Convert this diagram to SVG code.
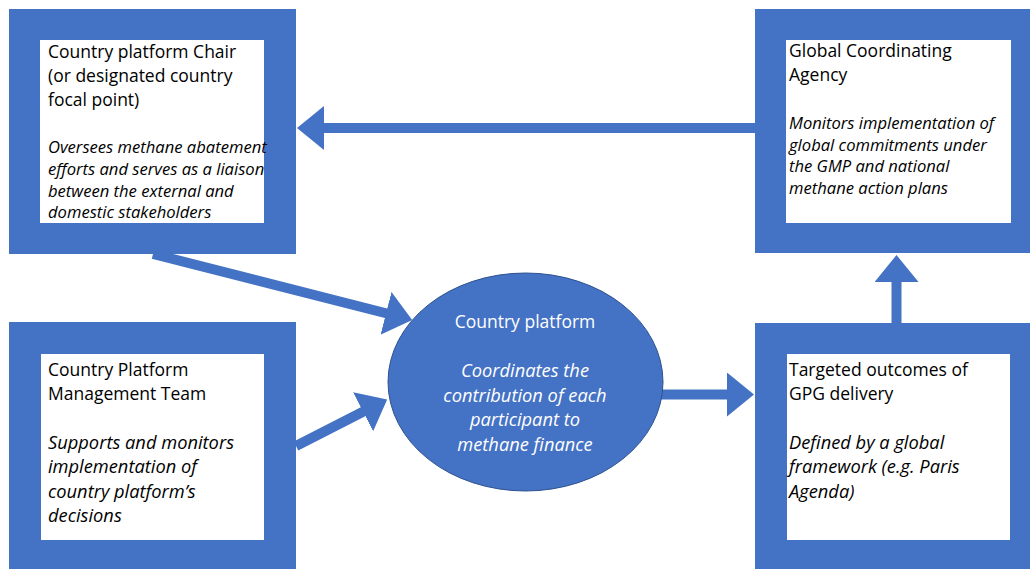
<svg xmlns="http://www.w3.org/2000/svg" width="1030" height="569" viewBox="0 0 1030 569">
<style>
.outer{fill:#4472C4}
.inner{fill:#ffffff}
.t{font-family:"Open Sans","Liberation Sans",sans-serif;font-size:17.5px;fill:#000}
.i{font-family:"Open Sans","Liberation Sans",sans-serif;font-style:italic;fill:#000}
.s{font-size:16.6px}
.l{font-size:18.3px}
.w{fill:#fff}
.c{stroke:#4472C4;stroke-width:10;fill:none;marker-end:url(#ah)}
</style>
<defs>
<marker id="ah" markerUnits="userSpaceOnUse" viewBox="0 0 27 44" markerWidth="27" markerHeight="44" refX="1" refY="22" orient="auto">
<path d="M0,0 L27,22 L0,44 z" fill="#4472C4"/>
</marker>
</defs>
<rect width="1030" height="569" fill="#fff"/>
<g id="connectors">
<line class="c" x1="755" y1="128" x2="323" y2="128"/>
<line class="c" x1="896.5" y1="323" x2="896.5" y2="281"/>
<line class="c" x1="153" y1="254" x2="387" y2="313.5"/>
<line class="c" x1="296" y1="446" x2="364" y2="411.3"/>
<line class="c" x1="660" y1="394.5" x2="728" y2="394.5"/>
</g>
<g id="chair">
<rect class="outer" x="9" y="9" width="287" height="245"/>
<rect class="inner" x="40" y="40" width="224" height="183"/>
<text class="t" x="48" y="58">Country platform Chair</text>
<text class="t" x="48" y="82">(or designated country</text>
<text class="t" x="48" y="106">focal point)</text>
<text class="i s" x="48" y="153">Oversees methane abatement</text>
<text class="i s" x="48" y="175">efforts and serves as a liaison</text>
<text class="i s" x="48" y="197">between the external and</text>
<text class="i s" x="48" y="218">domestic stakeholders</text>
</g>
<g id="agency">
<rect class="outer" x="755" y="9" width="287" height="244"/>
<rect class="inner" x="786" y="40" width="225" height="183"/>
<text class="t" x="789" y="57">Global Coordinating</text>
<text class="t" x="789" y="81">Agency</text>
<text class="i s" x="789" y="129">Monitors implementation of</text>
<text class="i s" x="789" y="151">global commitments under</text>
<text class="i s" x="789" y="172">the GMP and national</text>
<text class="i s" x="789" y="194">methane action plans</text>
</g>
<g id="team">
<rect class="outer" x="9" y="322" width="287" height="260"/>
<rect class="inner" x="41" y="354" width="223" height="186"/>
<text class="t" x="48" y="376">Country Platform</text>
<text class="t" x="48" y="400">Management Team</text>
<text class="i l" x="48" y="449">Supports and monitors</text>
<text class="i l" x="48" y="473">implementation of</text>
<text class="i l" x="48" y="498">country platform’s</text>
<text class="i l" x="48" y="522">decisions</text>
</g>
<g id="outcomes">
<rect class="outer" x="755" y="323" width="287" height="259"/>
<rect class="inner" x="787" y="354" width="223" height="186"/>
<text class="t" x="789" y="376">Targeted outcomes of</text>
<text class="t" x="789" y="400">GPG delivery</text>
<text class="i l" x="789" y="449">Defined by a global</text>
<text class="i l" x="789" y="473">framework (e.g. Paris</text>
<text class="i l" x="789" y="498">Agenda)</text>
</g>
<g id="platform">
<ellipse cx="525.5" cy="382" rx="137.5" ry="109" fill="#4472C4" stroke="#2F528F" stroke-width="1"/>
<text class="t w" x="525" y="328" text-anchor="middle">Country platform</text>
<text class="i l w" x="525" y="377" text-anchor="middle">Coordinates the</text>
<text class="i l w" x="525" y="402" text-anchor="middle">contribution of each</text>
<text class="i l w" x="525" y="426" text-anchor="middle">participant to</text>
<text class="i l w" x="525" y="451" text-anchor="middle">methane finance</text>
</g>
</svg>
